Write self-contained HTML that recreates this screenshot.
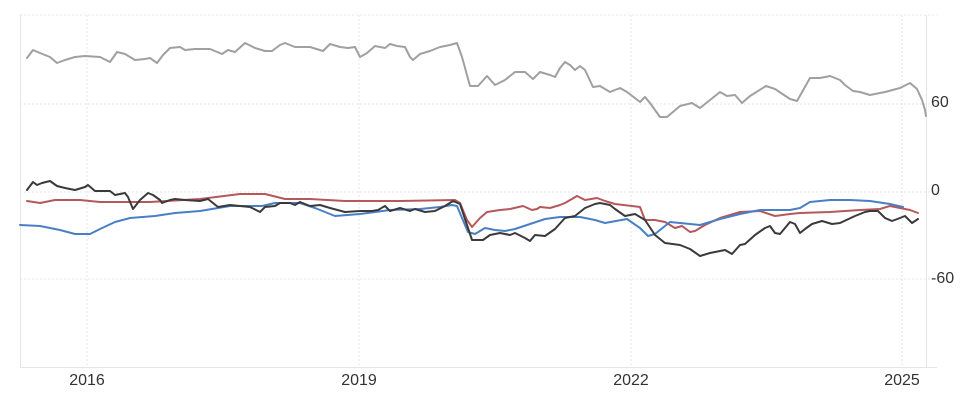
<!DOCTYPE html>
<html><head><meta charset="utf-8"><style>
html,body{margin:0;padding:0;background:#fff;}
svg{display:block;font-family:"Liberation Sans",sans-serif;}
</style></head><body>
<svg width="974" height="408" viewBox="0 0 974 408" xmlns="http://www.w3.org/2000/svg">
<g stroke="#e6e6e6" stroke-width="1" stroke-dasharray="2,2" fill="none">
<line x1="20" y1="15" x2="937" y2="15"/>
<line x1="20" y1="104" x2="937" y2="104"/>
<line x1="20" y1="192" x2="937" y2="192"/>
<line x1="20" y1="279" x2="937" y2="279"/>
<line x1="87" y1="15" x2="87" y2="367"/>
<line x1="359" y1="15" x2="359" y2="367"/>
<line x1="631" y1="15" x2="631" y2="367"/>
<line x1="902" y1="15" x2="902" y2="367"/>
</g>
<line x1="20.5" y1="15" x2="20.5" y2="367" stroke="#e6e6e6"/>
<line x1="926.5" y1="15" x2="926.5" y2="367" stroke="#e6e6e6"/>
<line x1="20" y1="367.5" x2="937" y2="367.5" stroke="#e6e6e6"/>
<g fill="none" stroke-width="2" stroke-linejoin="round" stroke-linecap="round">
<polyline stroke="#a0a0a0" points="27,58 33,50 40,53 45,55 50,57 57,63 65,60 75,57 85,56 100,57 110,62 117,52 125,54 135,60 145,59 150,58 157,63 163,55 170,48 180,47 185,50 195,49 210,49 222,54 228,50 235,52 245,43 255,48 265,51 272,51 280,45 285,43 295,47 310,47 323,51 330,44 340,47 348,48 355,47 360,57 367,53 375,46 385,48 390,44 397,46 405,47 410,57 413,60 420,54 430,51 440,47 450,45 457,43 462,57 470,86 478,86 487,76 495,85 505,80 515,72 525,72 533,79 540,72 550,75 555,77 560,68 565,62 570,65 575,70 580,66 585,70 593,87 600,86 610,92 620,88 627,92 640,102 645,97 650,103 660,117 667,117 680,106 692,103 700,108 710,100 720,92 727,96 735,95 742,103 750,96 766,86 775,89 790,99 797,101 810,78 820,78 830,76 840,80 845,85 853,91 860,92 870,95 885,92 900,88 910,83 917,89 922,100 925,110 926,116"/>
<polyline stroke="#b5585c" points="27,201 40,203 55,200 80,200 100,202 150,202 200,199 240,194 265,194 285,199 310,199 345,201 400,201 455,200 460,203 467,220 472,227 480,218 487,212 500,210 510,209 523,206 532,210 537,209 540,207 550,208 560,205 565,203 577,196 585,200 597,198 605,201 615,204 640,207 645,220 655,220 665,222 675,228 682,226 690,232 695,231 705,225 720,218 740,212 760,211 775,216 790,214 800,213 830,212 860,210 880,209 890,206 900,208 910,210 918,213"/>
<polyline stroke="#4a7fc4" points="20,225 40,226 60,230 75,234 90,234 100,229 115,222 130,218 155,216 175,213 200,211 230,206 262,206 275,203 300,203 315,208 335,216 360,214 390,210 420,209 440,207 452,205 457,206 462,218 468,232 475,234 485,228 495,230 505,231 515,229 530,224 545,219 560,217 580,217 595,220 605,223 627,219 640,228 648,236 655,234 670,222 680,223 700,225 720,219 740,214 760,210 790,210 800,208 810,202 830,200 850,200 870,201 890,204 903,207"/>
<polyline stroke="#3a3a3a" points="27,190 33,182 37,185 42,183 50,181 57,186 65,188 75,190 85,187 88,185 95,191 110,191 115,195 125,193 128,197 133,209 140,200 148,193 153,195 160,200 162,203 170,200 175,199 185,200 200,201 208,199 218,207 230,205 240,206 250,207 260,212 265,207 275,206 280,203 290,203 295,205 300,202 310,206 320,205 330,208 345,212 360,211 372,211 378,210 385,206 390,211 400,208 410,211 415,209 425,212 435,211 445,206 453,201 460,204 472,240 483,240 490,235 500,233 510,235 515,233 525,238 530,241 535,235 545,236 555,229 565,218 575,216 585,208 595,204 600,203 610,205 615,209 625,216 635,214 645,220 655,235 665,243 680,245 690,249 700,256 710,253 725,250 732,254 740,245 745,244 755,235 765,228 770,226 775,233 780,234 790,222 795,224 800,233 805,229 812,224 822,221 832,224 840,223 855,216 865,212 870,211 878,211 885,218 892,221 900,218 905,216 912,223 918,219"/>
</g>
<g fill="#333" font-size="16">
<text x="931" y="107">60</text>
<text x="931" y="195">0</text>
<text x="931" y="283">-60</text>
<text x="87" y="385" text-anchor="middle">2016</text>
<text x="359" y="385" text-anchor="middle">2019</text>
<text x="631" y="385" text-anchor="middle">2022</text>
<text x="902" y="385" text-anchor="middle">2025</text>
</g>
</svg>
</body></html>
